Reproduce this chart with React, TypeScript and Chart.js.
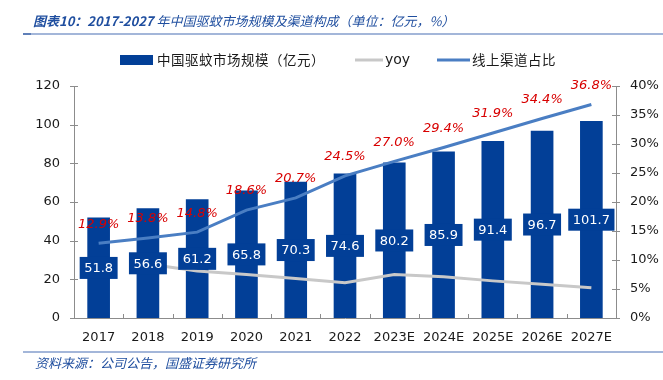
import React, { useEffect, useRef } from "react";
import { Chart, registerables } from "chart.js";

Chart.register(...registerables);

const categories = ["2017", "2018", "2019", "2020", "2021", "2022", "2023E", "2024E", "2025E", "2026E", "2027E"];
const marketSize = [51.8, 56.6, 61.2, 65.8, 70.3, 74.6, 80.2, 85.9, 91.4, 96.7, 101.7];
const yoy = [null, 9.3, 8.1, 7.5, 6.8, 6.1, 7.5, 7.1, 6.4, 5.8, 5.2];
const onlineShare = [12.9, 13.8, 14.8, 18.6, 20.7, 24.5, 27.0, 29.4, 31.9, 34.4, 36.8];

const titleHead = "图表10：2017-2027 ";
const titleTail = "年中国驱蚊市场规模及渠道构成（单位：亿元，%）";
const sourceText = "资料来源：公司公告，国盛证券研究所";
const legendLabels = ["中国驱蚊市场规模（亿元）", "yoy", "线上渠道占比"];

const BAR = "#023f97";
const ONLINE = "#4a7ec3";
const YOY = "#c8c8c8";
const RED = "#d80000";
const AXIS = "#8c8c8c";
const TITLE = "#1f4e9f";
const RULE = "#a3b6d9";
const FONT = '"DejaVu Sans", sans-serif';
const CJK = '"Noto Sans CJK SC", sans-serif';

const decoPlugin = {
  id: "deco",
  afterDatasetsDraw(chart: any) {
    const ctx = chart.ctx;
    ctx.save();
    // bar value labels
    const barMeta = chart.getDatasetMeta(0);
    ctx.font = `13px ${FONT}`;
    ctx.textAlign = "center";
    ctx.textBaseline = "middle";
    barMeta.data.forEach((bar: any, i: number) => {
      const p = bar.getProps(["x", "y", "base"], true);
      const cy = (p.y + p.base) / 2;
      const text = marketSize[i].toFixed(1);
      const w = ctx.measureText(text).width + 9;
      const h = 22;
      ctx.fillStyle = BAR;
      ctx.fillRect(p.x - w / 2, cy - h / 2, w, h);
      ctx.fillStyle = "#ffffff";
      ctx.fillText(text, p.x, cy + 1);
    });
    // online share labels
    const lineMeta = chart.getDatasetMeta(2);
    ctx.font = `italic 13px ${FONT}`;
    ctx.fillStyle = RED;
    lineMeta.data.forEach((pt: any, i: number) => {
      ctx.fillText(onlineShare[i].toFixed(1) + "%", pt.x, pt.y - 19);
    });
    ctx.restore();
  },
  afterDraw(chart: any) {
    const ctx = chart.ctx;
    const area = chart.chartArea;
    ctx.save();
    // tick marks (inward)
    ctx.strokeStyle = AXIS;
    ctx.lineWidth = 1;
    const n = categories.length;
    const cw = (area.right - area.left) / n;
    ctx.beginPath();
    for (let k = 1; k < n; k++) {
      const x = Math.round(area.left + k * cw) + 0.5;
      ctx.moveTo(x, area.bottom);
      ctx.lineTo(x, area.bottom - 4);
    }
    const ys = chart.scales.y;
    ys.ticks.forEach((t: any) => {
      const y = Math.round(ys.getPixelForValue(t.value)) + 0.5;
      ctx.moveTo(area.left - 4, y);
      ctx.lineTo(area.left + 4, y);
    });
    const y1 = chart.scales.y1;
    y1.ticks.forEach((t: any) => {
      const y = Math.round(y1.getPixelForValue(t.value)) + 0.5;
      ctx.moveTo(area.right - 4, y);
      ctx.lineTo(area.right + 4, y);
    });
    ctx.stroke();

    // title
    ctx.textBaseline = "middle";
    ctx.textAlign = "left";
    ctx.fillStyle = TITLE;
    ctx.font = `italic bold 13px ${CJK}`;
    ctx.fillText(titleHead, 33, 21);
    const hw = ctx.measureText(titleHead).width;
    ctx.font = `italic 13px ${CJK}`;
    ctx.fillText(titleTail, 33 + hw, 21);
    // rules
    ctx.fillStyle = RULE;
    ctx.fillRect(23, 33, 640, 2);
    ctx.fillRect(23, 351, 640, 2);
    ctx.fillStyle = "#5f7fb8";
    ctx.fillRect(23, 33, 8, 2);
    // source
    ctx.fillStyle = TITLE;
    ctx.font = `italic 13px ${CJK}`;
    ctx.fillText(sourceText, 35, 363);

    // legend
    const ly = 60;
    ctx.fillStyle = BAR;
    ctx.fillRect(120, 55, 33, 10);
    ctx.fillStyle = "#1a1a1a";
    ctx.font = `13.5px ${CJK}`;
    (ctx as any).letterSpacing = "0.5px";
    ctx.fillText(legendLabels[0], 157, ly);
    (ctx as any).letterSpacing = "0px";
    ctx.lineWidth = 3;
    ctx.strokeStyle = YOY;
    ctx.beginPath();
    ctx.moveTo(355, ly);
    ctx.lineTo(383, ly);
    ctx.stroke();
    ctx.font = `14px ${FONT}`;
    ctx.fillText(legendLabels[1], 385, ly);
    ctx.strokeStyle = ONLINE;
    ctx.beginPath();
    ctx.moveTo(437, ly);
    ctx.lineTo(470, ly);
    ctx.stroke();
    ctx.font = `13.5px ${CJK}`;
    (ctx as any).letterSpacing = "0.5px";
    ctx.fillText(legendLabels[2], 472, ly);
    (ctx as any).letterSpacing = "0px";
    ctx.restore();
  },
};

export default function App() {
  const ref = useRef<HTMLCanvasElement | null>(null);
  useEffect(() => {
    if (!ref.current) return;
    const tickFont = { family: FONT, size: 13 };
    const chart = new Chart(ref.current, {
      type: "bar",
      data: {
        labels: categories,
        datasets: [
          {
            type: "bar",
            label: legendLabels[0],
            data: marketSize,
            backgroundColor: BAR,
            barThickness: 22,
            yAxisID: "y",
            order: 3,
          } as any,
          {
            type: "line",
            label: legendLabels[1],
            data: yoy,
            borderColor: YOY,
            borderWidth: 3,
            pointRadius: 0,
            tension: 0,
            yAxisID: "y1",
            order: 2,
          } as any,
          {
            type: "line",
            label: legendLabels[2],
            data: onlineShare,
            borderColor: ONLINE,
            borderWidth: 3,
            pointRadius: 0,
            tension: 0,
            yAxisID: "y1",
            order: 1,
          } as any,
        ],
      },
      options: {
        responsive: false,
        animation: false,
        layout: { padding: { top: 86, left: 0, right: 0, bottom: 0 } },
        plugins: { legend: { display: false }, tooltip: { enabled: false } },
        scales: {
          x: {
            grid: { display: false, drawTicks: false },
            border: { color: AXIS },
            ticks: { font: tickFont, color: "#1a1a1a", padding: 12, maxRotation: 0, autoSkip: false },
            afterFit(s: any) {
              s.height = 62;
            },
          },
          y: {
            position: "left",
            min: 0,
            max: 120,
            grid: { display: false, drawTicks: false },
            border: { color: AXIS },
            ticks: { stepSize: 20, font: tickFont, color: "#1a1a1a", padding: 14 },
            afterFit(s: any) {
              s.width = 74;
            },
          },
          y1: {
            position: "right",
            min: 0,
            max: 40,
            grid: { display: false, drawTicks: false },
            border: { color: AXIS },
            ticks: { stepSize: 5, font: tickFont, color: "#1a1a1a", padding: 14, callback: (v: any) => v + "%" },
            afterFit(s: any) {
              s.width = 47;
            },
          },
        },
      } as any,
      plugins: [decoPlugin],
    });
    return () => chart.destroy();
  }, []);
  return (
    <div style={{ position: "fixed", left: 0, top: 0, width: 663, height: 380, background: "#fff" }}>
      <canvas ref={ref} width={663} height={380} style={{ width: 663, height: 380 }} />
    </div>
  );
}
